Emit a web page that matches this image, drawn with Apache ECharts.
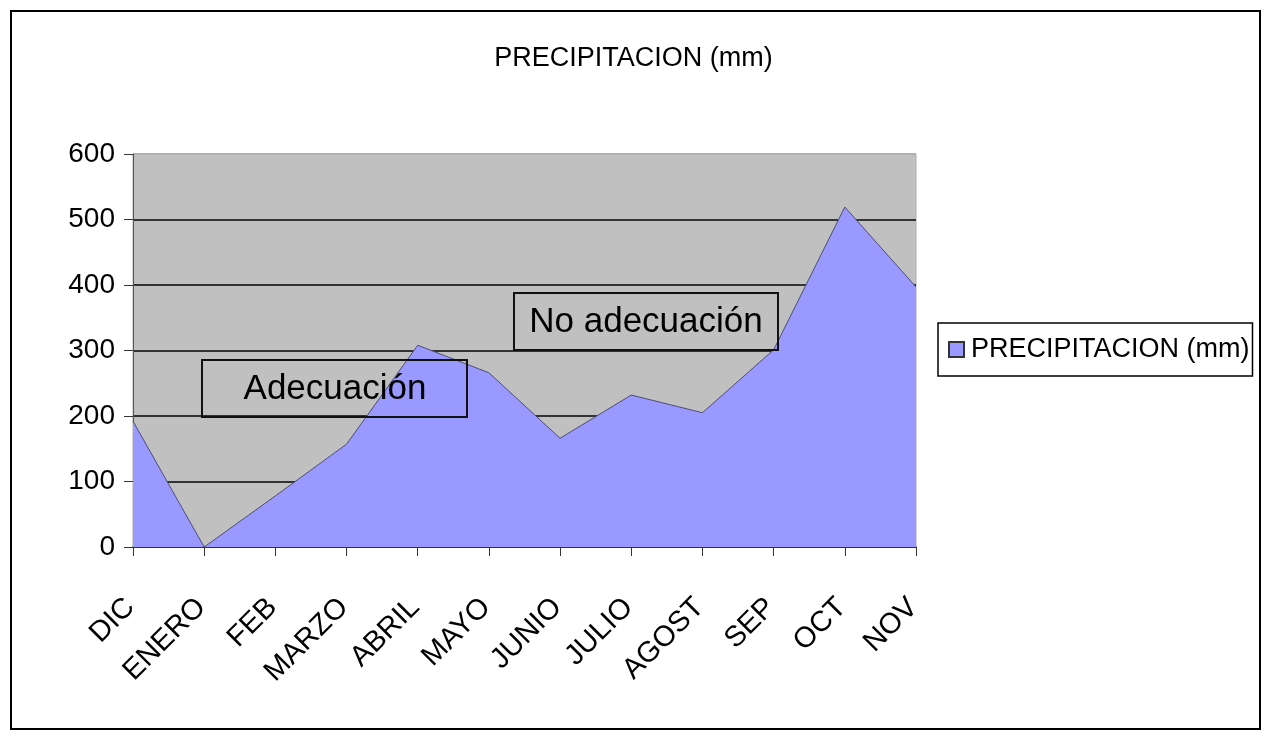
<!DOCTYPE html>
<html>
<head>
<meta charset="utf-8">
<script src="https://cdn.jsdelivr.net/npm/echarts@6/dist/echarts.min.js"></script>
<style>
  html, body { margin: 0; padding: 0; background: #fff; }
  #chart { width: 1267px; height: 741px; }
</style>
</head>
<body>
<div id="chart"></div>
<script>
const months = ['DIC', 'ENERO', 'FEB', 'MARZO', 'ABRIL', 'MAYO', 'JUNIO', 'JULIO', 'AGOST', 'SEP', 'OCT', 'NOV'];
const precipitacion = [192, 0, 78, 157, 308, 266, 166, 232, 205, 301, 519, 397];
const yTicks = [0, 100, 200, 300, 400, 500, 600];

// no hay fuente estrecha instalada: se baja el tamaño para igualar el ancho
const NARROW = "'Liberation Sans Narrow', 'Arial Narrow', 'Liberation Sans', sans-serif";
const SANS = "'Liberation Sans', Arial, sans-serif";

const chart = echarts.init(document.getElementById('chart'));

// marco y cajas de texto como en el original
const frameAndNotes = [
    { type: 'rect', shape: { x: 11, y: 11, width: 1249, height: 718 },
      style: { fill: 'none', stroke: '#000', lineWidth: 2 }, silent: true },
    { type: 'rect', shape: { x: 202, y: 360, width: 265, height: 57 },
      style: { fill: 'none', stroke: '#111', lineWidth: 2 }, z: 10 },
    { type: 'text', x: 335, y: 389, z: 11,
      style: { text: 'Adecuación', font: '35px ' + SANS, fill: '#000', align: 'center', verticalAlign: 'middle' } },
    { type: 'rect', shape: { x: 514, y: 293, width: 264, height: 57 },
      style: { fill: 'none', stroke: '#111', lineWidth: 2 }, z: 10 },
    { type: 'text', x: 646, y: 322, z: 11,
      style: { text: 'No adecuación', font: '35px ' + SANS, fill: '#000', align: 'center', verticalAlign: 'middle' } },
];

chart.setOption({
    animation: false,
    title: {
        text: 'PRECIPITACION (mm)',
        left: 'center',
        top: 40,
        textStyle: { fontFamily: NARROW, fontSize: 27, fontWeight: 'normal', color: '#000' },
    },
    legend: {
        data: ['PRECIPITACION (mm)'],
        orient: 'vertical',
        left: 938,
        top: 323,
        padding: [13, 3, 13, 10],
        borderColor: '#000',
        borderWidth: 1.5,
        itemWidth: 15,
        itemHeight: 15,
        icon: 'rect',
        textStyle: { fontFamily: NARROW, fontSize: 27, color: '#000', padding: [0, 0, 0, 2] },
    },
    grid: {
        left: 133, right: 351, top: 154, bottom: 194,
        show: true,
        backgroundColor: '#c0c0c0',
        borderColor: '#b0b0b0',
        borderWidth: 1,
    },
    xAxis: {
        type: 'category',
        data: months,
        boundaryGap: false,
        axisLine: { lineStyle: { color: '#333', width: 1.5 } },
        axisTick: { show: true, length: 9, lineStyle: { color: '#333' } },
        axisLabel: { rotate: 45, margin: 53, interval: 0, fontFamily: NARROW, fontSize: 29, color: '#000', padding: [0, 4, 0, 0] },
        splitLine: { show: false },
    },
    yAxis: {
        type: 'value',
        min: yTicks[0],
        max: yTicks[yTicks.length - 1],
        interval: 100,
        axisLine: { show: true, lineStyle: { color: '#555', width: 1 } },
        axisTick: { show: true, length: 9, lineStyle: { color: '#333' } },
        axisLabel: { margin: 18, fontFamily: NARROW, fontSize: 28, color: '#000' },
        splitLine: { show: true, lineStyle: { color: ['#333', '#333', '#333', '#333', '#333', '#333', '#b0b0b0'], width: 2 } },
    },
    series: [{
        name: 'PRECIPITACION (mm)',
        type: 'line',
        data: precipitacion,
        showSymbol: false,
        symbol: 'none',
        lineStyle: { color: '#4c4c78', width: 1 },
        itemStyle: { color: '#9999ff', borderColor: '#333', borderWidth: 1 },
        areaStyle: { color: '#9999ff', opacity: 1 },
    }],
    graphic: frameAndNotes,
});
</script>
</body>
</html>
